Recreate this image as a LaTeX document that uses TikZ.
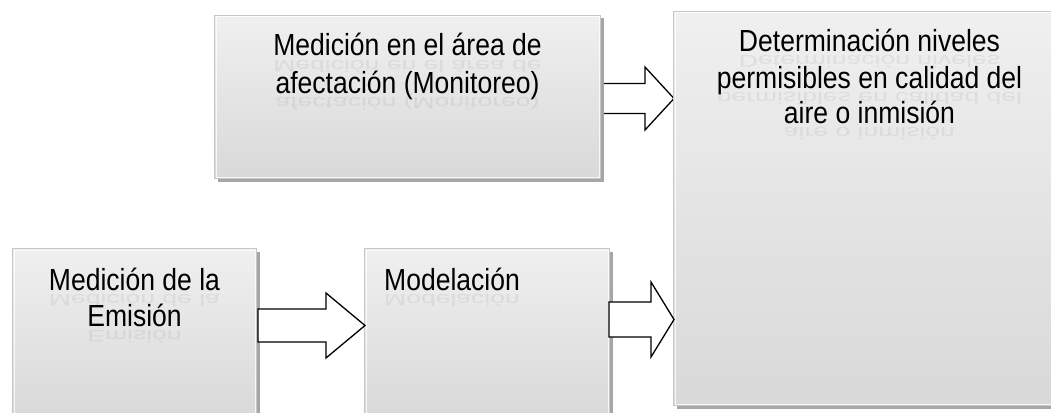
\documentclass[tikz,border=0pt]{standalone}
\usepackage{fontspec}
\setmainfont{Liberation Sans}
\usetikzlibrary{calc,shadows,backgrounds}
\tikzset{
  box/.style={draw=black!22, line width=1pt, top color=black!6, bottom color=black!15,
    anchor=north west, inner sep=0pt,
    drop shadow={fill=black!35, opacity=1, shadow xshift=3pt, shadow yshift=-3pt},
    path picture={\draw[white, opacity=0.8, line width=1pt]
      ($(path picture bounding box.south west)+(1.5pt,1.5pt)$) rectangle
      ($(path picture bounding box.north east)+(-1.5pt,-1.5pt)$);}},
  txt/.style={inner sep=0pt, font=\fontsize{30.5}{36}\selectfont, text=black},
  refl/.style={inner sep=0pt, font=\fontsize{30.5}{36}\selectfont, text=black, text opacity=0.06},
  barrow/.style={draw=black, fill=white, line width=1.3pt, line join=miter},
}
\newcommand\txtline[4]{% name, anchor, position, text
  \node[refl, anchor=#2] (#1-r) at ($#3+(0,4)$) {\scalebox{0.87}[-0.55]{#4}};
  \node[txt, anchor=#2] (#1) at #3 {\scalebox{0.87}[1]{#4}};}
\newcommand\blockarrow[5]{% start, tip, halfbody, halfhead, headlen
  \filldraw[barrow] ($(#1)+(0,-#3)$) -- ($(#2)+(-#5,-#3)$) -- ($(#2)+(-#5,-#4)$) -- (#2)
    -- ($(#2)+(-#5,#4)$) -- ($(#2)+(-#5,#3)$) -- ($(#1)+(0,#3)$) -- cycle;}
\begin{document}
\begin{tikzpicture}[x=1pt,y=-1pt]
\useasboundingbox (0,0) rectangle (1051,412);
% boxes
\node[box, minimum width=392pt, minimum height=394pt] (det) at (673,11) {};
\node[box, minimum width=386pt, minimum height=163pt] (mon) at (214,15) {};
\node[box, minimum width=244pt, minimum height=168pt] (emi) at (12,248) {};
\node[box, minimum width=245pt, minimum height=168pt] (mod) at (364,248) {};
% arrows
\coordinate (a1s) at ($(mon.east |- 0,98.5)+(1,0)$);
\coordinate (a1t) at ($(det.west |- a1s)+(1,0)$);
\begin{scope}[on background layer]
\blockarrow{a1s}{a1t}{15}{31.5}{29}
\end{scope}
\coordinate (a2s) at ($(emi.east |- 0,325.5)+(1,0)$);
\coordinate (a2t) at ($(mod.west |- a2s)+(1,0)$);
\blockarrow{a2s}{a2t}{16.5}{32.5}{39}
\coordinate (a3s) at ($(mod.east |- 0,319.5)+(-1,0)$);
\coordinate (a3t) at ($(det.west |- a3s)+(1,0)$);
\blockarrow{a3s}{a3t}{17.5}{37.5}{23}
% texts
\txtline{mon1}{base}{($(mon.north)+(0,41)$)}{Medición en el área de}
\txtline{mon2}{base}{($(mon.north)+(0,78)$)}{afectación (Monitoreo)}
\txtline{det1}{base}{($(det.north)+(0,41)$)}{Determinación niveles}
\txtline{det2}{base}{($(det.north)+(0,77)$)}{permisibles en calidad del}
\txtline{det3}{base}{($(det.north)+(0,112)$)}{aire o inmisión}
\txtline{emi1}{base}{($(emi.north)+(0,42)$)}{Medición de la}
\txtline{emi2}{base}{($(emi.north)+(0,78)$)}{Emisión}
\txtline{mod1}{base west}{($(mod.north west)+(20,42)$)}{Modelación}
\end{tikzpicture}
\end{document}
